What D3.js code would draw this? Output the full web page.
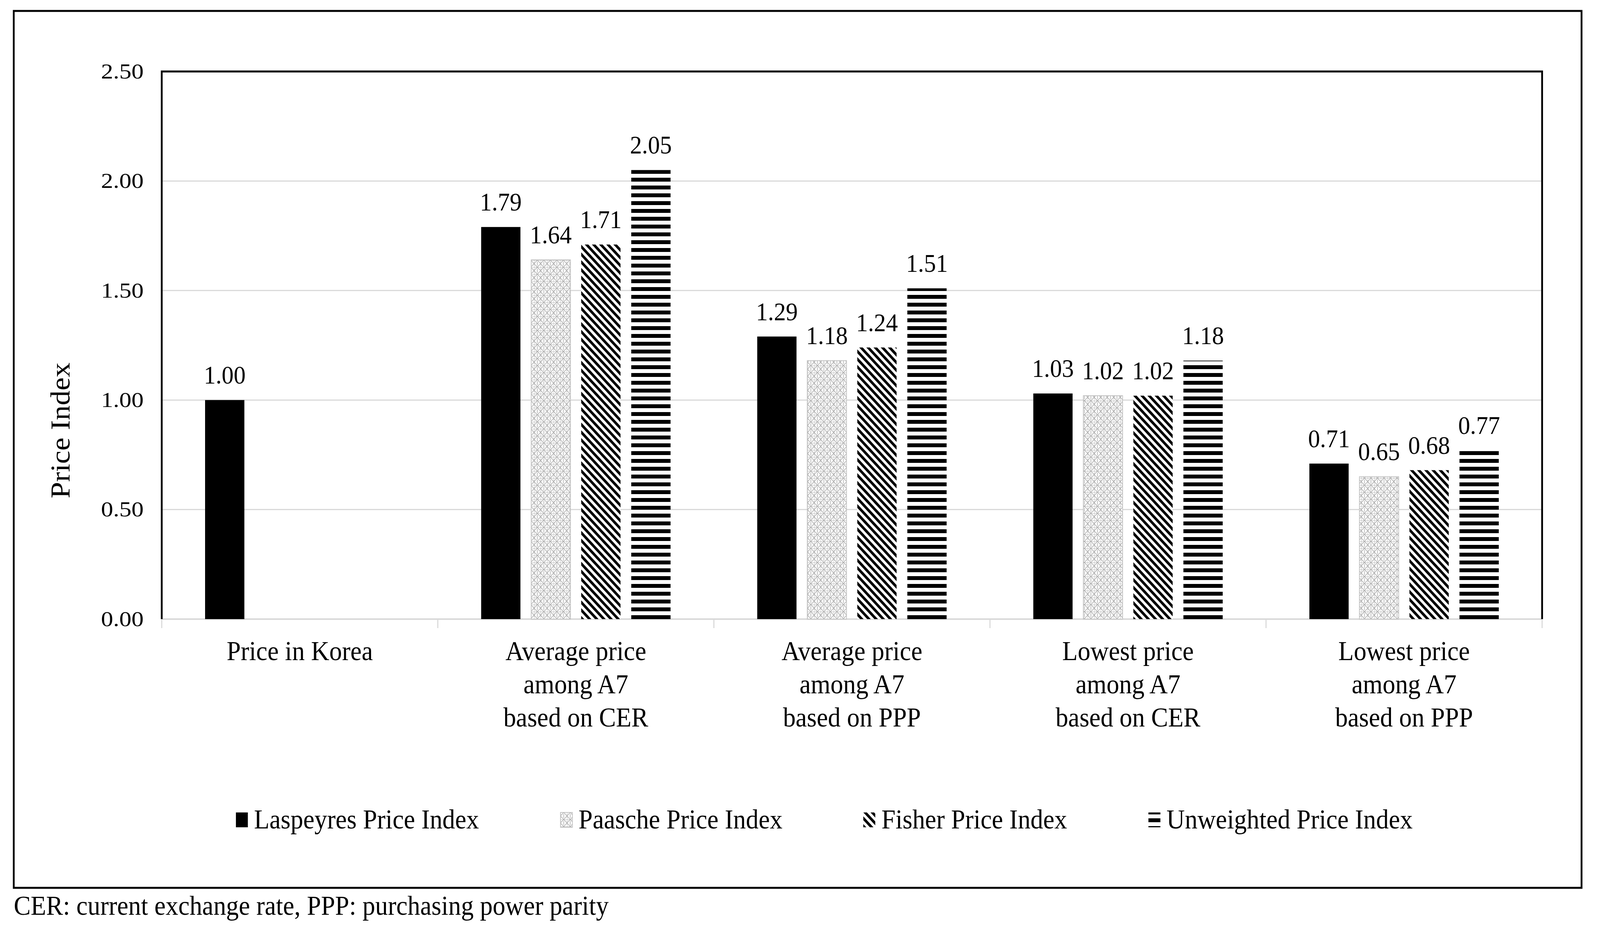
<!DOCTYPE html>
<html>
<head>
<meta charset="utf-8">
<script src="https://cdn.jsdelivr.net/npm/d3@7"></script>
<style>
  html, body { margin: 0; padding: 0; background: #fff; width: 100%; height: 100%; overflow: hidden; }
  svg { display: block; width: 100vw; height: 100vh; font-family: "Liberation Serif", "Times New Roman", serif; }
</style>
</head>
<body>
<svg id="chart" viewBox="0 0 4422 2404" preserveAspectRatio="none"></svg>
<script>
// data
const categories = [
  ["Price in Korea"],
  ["Average price", "among A7", "based on CER"],
  ["Average price", "among A7", "based on PPP"],
  ["Lowest price", "among A7", "based on CER"],
  ["Lowest price", "among A7", "based on PPP"]
];
const seriesNames = ["Laspeyres Price Index", "Paasche Price Index", "Fisher Price Index", "Unweighted Price Index"];
const laspeyres = [1.00, 1.79, 1.29, 1.03, 0.71];
const paasche = [null, 1.64, 1.18, 1.02, 0.65];
const fisher = [null, 1.71, 1.24, 1.02, 0.68];
const unweighted = [null, 2.05, 1.51, 1.18, 0.77];
const yTicks = [0, 0.5, 1.0, 1.5, 2.0, 2.5];

const values = [laspeyres, paasche, fisher, unweighted];
const fills = ["#000", "url(#paasche)", "url(#fisher)", "url(#unweighted)"];

const svg = d3.select("#chart");
const plot = { left: 447, right: 4262, top: 183, bottom: 1585 };

// patterns
const defs = svg.append("defs");
const pp = defs.append("pattern").attr("id", "paasche")
  .attr("patternUnits", "userSpaceOnUse").attr("width", 18).attr("height", 18);
pp.append("rect").attr("width", 18).attr("height", 18).attr("fill", "#fff");
pp.append("path").attr("d", "M0,9 L9,0 L18,9 L9,18 Z M9,4 L9,14 M0,0 L0,18 M0,0 L18,0")
  .attr("fill", "none").attr("stroke", "#a8a8a8").attr("stroke-width", 1.6);

const fp = defs.append("pattern").attr("id", "fisher")
  .attr("patternUnits", "userSpaceOnUse").attr("width", 14).attr("height", 14)
  .attr("patternTransform", "rotate(-45)");
fp.append("rect").attr("width", 14).attr("height", 14).attr("fill", "#fff");
fp.append("rect").attr("width", 7).attr("height", 14).attr("fill", "#000");

const up = defs.append("pattern").attr("id", "unweighted")
  .attr("patternUnits", "userSpaceOnUse").attr("width", 20).attr("height", 20)
  .attr("y", 15);
up.append("rect").attr("width", 20).attr("height", 20).attr("fill", "#fff");
up.append("rect").attr("width", 20).attr("height", 10).attr("fill", "#000");

// outer border
svg.append("rect").attr("x", 38).attr("y", 28).attr("width", 4333).attr("height", 2245)
  .attr("fill", "none").attr("stroke", "#000").attr("stroke-width", 5);

const x = d3.scaleBand().domain(d3.range(categories.length)).range([plot.left, plot.right]);
const x1 = d3.scaleBand().domain(d3.range(seriesNames.length))
  .range([x.bandwidth() * 0.157, x.bandwidth() * 0.843]).paddingInner(0.215);
const y = d3.scaleLinear().domain([0, 2.5]).range([plot.bottom, plot.top]);

// gridlines
svg.append("g").selectAll("line").data(yTicks.filter(d => d > 0 && d < 2.5)).join("line")
  .attr("x1", plot.left).attr("x2", plot.right)
  .attr("y1", d => y(d)).attr("y2", d => y(d))
  .attr("stroke", "#d9d9d9").attr("stroke-width", 3);

// y axis labels
const yAxis = svg.append("g").attr("transform", `translate(${plot.left},0)`)
  .call(d3.axisLeft(y).tickValues(yTicks).tickFormat(d3.format(".2f")).tickSize(0).tickPadding(50));
yAxis.select(".domain").remove();
yAxis.selectAll("text")
  .attr("font-family", "Liberation Serif").attr("font-size", 54).attr("fill", "#000")
  .attr("textLength", 118).attr("lengthAdjust", "spacingAndGlyphs");

// x axis line and ticks
svg.append("line").attr("x1", plot.left).attr("x2", plot.right)
  .attr("y1", plot.bottom).attr("y2", plot.bottom)
  .attr("stroke", "#d9d9d9").attr("stroke-width", 4);
svg.append("g").selectAll("line").data(d3.range(categories.length + 1)).join("line")
  .attr("x1", i => plot.left + i * x.bandwidth()).attr("x2", i => plot.left + i * x.bandwidth())
  .attr("y1", plot.bottom).attr("y2", plot.bottom + 23)
  .attr("stroke", "#d9d9d9").attr("stroke-width", 3);

// bars
const barData = [];
categories.forEach((c, ci) => values.forEach((s, si) => {
  if (s[ci] != null) barData.push({ ci, si, v: s[ci] });
}));

svg.append("g").selectAll("rect").data(barData).join("rect")
  .attr("x", d => x(d.ci) + x1(d.si))
  .attr("y", d => y(d.v))
  .attr("width", x1.bandwidth())
  .attr("height", d => y(0) - y(d.v))
  .attr("fill", d => fills[d.si])
  .attr("stroke", d => d.si === 1 ? "#c4c4c4" : "none")
  .attr("stroke-width", 2);

svg.append("g").selectAll("text").data(barData).join("text")
  .attr("x", d => x(d.ci) + x1(d.si) + x1.bandwidth() / 2)
  .attr("y", d => y(d.v) - 42)
  .attr("text-anchor", "middle").attr("font-size", 66).attr("fill", "#000")
  .text(d => d.v.toFixed(2));

// frame: top, left, right
svg.append("path")
  .attr("d", `M${plot.left},${plot.bottom} V${plot.top} H${plot.right} V${plot.bottom}`)
  .attr("fill", "none").attr("stroke", "#000").attr("stroke-width", 5);

// category labels
const cat = svg.append("g").selectAll("text").data(categories).join("text")
  .attr("x", (d, i) => x(i) + x.bandwidth() / 2)
  .attr("y", 1690)
  .attr("text-anchor", "middle").attr("font-size", 70).attr("fill", "#000");
cat.selectAll("tspan").data(d => d).join("tspan")
  .attr("x", function() { return this.parentNode.getAttribute("x"); })
  .attr("dy", (d, i) => i === 0 ? 0 : 85)
  .text(d => d);

// y axis title
svg.append("text")
  .attr("transform", "translate(192,1102) rotate(-90)")
  .attr("text-anchor", "middle").attr("font-size", 76).attr("fill", "#000")
  .text("Price Index");

// legend
const legendX = [652, 1549, 2386, 3174];
const lg = svg.append("g").selectAll("g").data(seriesNames).join("g")
  .attr("transform", (d, i) => `translate(${legendX[i]},2080)`);
lg.append("rect").attr("width", 33).attr("height", 38)
  .attr("fill", (d, i) => fills[i])
  .attr("stroke", (d, i) => i === 1 ? "#c4c4c4" : "none").attr("stroke-width", 2);
lg.append("text").attr("x", 50).attr("y", 41)
  .attr("font-size", 70).attr("fill", "#000")
  .text(d => d);

// footnote
svg.append("text").attr("x", 38).attr("y", 2342)
  .attr("font-size", 70).attr("fill", "#000")
  .text("CER: current exchange rate, PPP: purchasing power parity");
</script>
</body>
</html>
